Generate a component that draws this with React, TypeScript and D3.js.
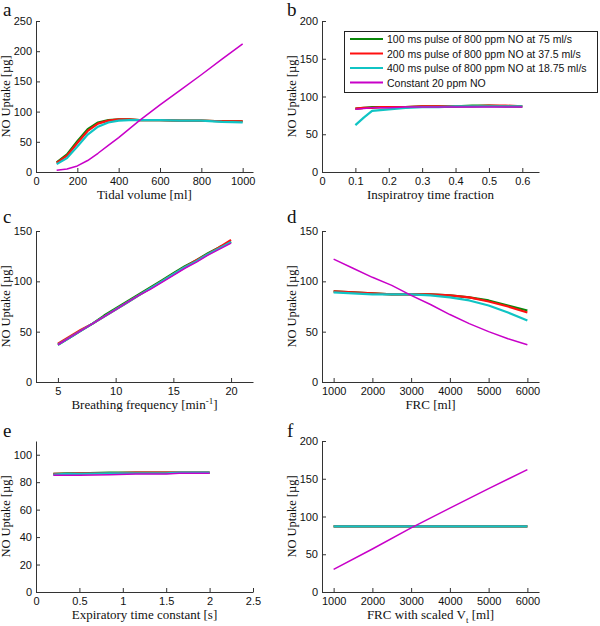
import React, { useEffect, useRef } from "react";
import * as d3 from "d3";

// colours of the four ventilation modes
const seriesNames = [
  "100 ms pulse of 800 ppm NO at 75 ml/s",
  "200 ms pulse of 800 ppm NO at 37.5 ml/s",
  "400 ms pulse of 800 ppm NO at 18.75 ml/s",
  "Constant 20 ppm NO",
];
const seriesColors = ["#0a870a", "#ff1010", "#10c4c4", "#c800c8"];

// a: tidal volume
const aX = [100, 150, 200, 250, 300, 350, 400, 450, 500, 600, 700, 800, 900, 1000];
const aGreen = [16, 29, 51, 71, 82, 86, 87, 87, 86, 86, 85, 85, 84, 84];
const aRed = [15, 27, 48, 68, 80, 85, 87, 87, 86, 86, 85, 85, 84, 84];
const aCyan = [13, 23, 42, 62, 75, 82, 85, 86, 86, 86, 85, 85, 83, 82];
const aMag = [3, 5, 10, 19, 31, 44, 57, 71, 85, 111, 136, 161, 187, 212];

// b: inspiratory time fraction
const bX = [0.1, 0.125, 0.15, 0.175, 0.2, 0.25, 0.3, 0.35, 0.4, 0.45, 0.5, 0.55, 0.6];
const bGreen = [84, 85, 86, 86, 86, 86, 87, 87, 87, 88, 88, 87, 87];
const bRed = [84, 85, 85, 86, 86, 86, 87, 87, 87, 87, 88, 88, 87];
const bCyan = [62, 72, 81, 82, 83, 85, 86, 86, 87, 87, 87, 87, 87];
const bMag = [83, 84, 85, 85, 85, 86, 86, 86, 86, 86, 86, 86, 86];

// c: breathing frequency
const cX = [5, 6, 7, 8, 9, 10, 11, 12, 13, 14, 15, 16, 17, 18, 19, 20];
const cGreen = [37, 44, 51, 58, 66, 73, 80, 87, 94, 101, 108, 115, 121, 128, 134, 139];
const cRed = [38, 45, 52, 58, 65, 72, 79, 86, 93, 100, 107, 114, 121, 127, 134, 141];
const cCyan = [37, 44, 51, 58, 65, 72, 79, 86, 93, 100, 107, 114, 120, 127, 133, 139];
const cMag = [37, 44, 51, 58, 65, 72, 79, 86, 92, 99, 106, 113, 119, 126, 132, 138];

// d: FRC
const dX = [1000, 1500, 2000, 2500, 3000, 3500, 4000, 4500, 5000, 5500, 6000];
const dGreen = [90, 89, 88, 87, 87, 87, 86, 84, 81, 76, 71];
const dRed = [90, 89, 88, 87, 87, 87, 86, 84, 80, 75, 69];
const dCyan = [89, 88, 87, 87, 87, 86, 84, 81, 76, 69, 61];
const dMag = [122, 113, 104, 96, 86, 77, 67, 58, 50, 43, 37];

// e: expiratory time constant
const eX = [0.2, 0.35, 0.5, 0.85, 1.15, 1.5, 1.65, 2];
const eGreen = [86, 86.5, 86.5, 87, 87, 87, 87, 87];
const eRed = [86, 86, 86.5, 86.5, 87, 87, 87, 87];
const eCyan = [85.5, 86, 86, 86.5, 86.5, 86.5, 87, 87];
const eMag = [85, 85, 85, 85.5, 86, 86, 86.5, 86.5];

// f: FRC with scaled Vt
const fX = [1000, 2000, 3000, 4000, 5000, 6000];
const fGreen = [87, 87, 87, 87, 87, 87];
const fRed = [87, 87, 87, 87, 87, 87];
const fCyan = [87, 87, 87, 87, 87, 87];
const fMag = [30, 57, 85, 111, 137, 162];

const panels = [
  { letter: "a", col: 0, row: 0, x: aX, ys: [aGreen, aRed, aCyan, aMag], xDom: [0, 1050], yDom: [0, 250],
    xTicks: [0, 200, 400, 600, 800, 1000], yTicks: [0, 50, 100, 150, 200, 250], xLabel: "Tidal volume [ml]" },
  { letter: "b", col: 1, row: 0, x: bX, ys: [bGreen, bRed, bCyan, bMag], xDom: [0, 0.65], yDom: [0, 200],
    xTicks: [0, 0.1, 0.2, 0.3, 0.4, 0.5, 0.6], yTicks: [0, 50, 100, 150, 200], xLabel: "Inspiratroy time fraction" },
  { letter: "c", col: 0, row: 1, x: cX, ys: [cGreen, cRed, cCyan, cMag], xDom: [3.1, 21.9], yDom: [0, 150],
    xTicks: [5, 10, 15, 20], yTicks: [0, 50, 100, 150], xLabel: "c" },
  { letter: "d", col: 1, row: 1, x: dX, ys: [dGreen, dRed, dCyan, dMag], xDom: [700, 6300], yDom: [0, 150],
    xTicks: [1000, 2000, 3000, 4000, 5000, 6000], yTicks: [0, 50, 100, 150], xLabel: "FRC [ml]" },
  { letter: "e", col: 0, row: 2, x: eX, ys: [eGreen, eRed, eCyan, eMag], xDom: [0, 2.5], yDom: [0, 110],
    xTicks: [0, 0.5, 1, 1.5, 2, 2.5], yTicks: [0, 20, 40, 60, 80, 100], xLabel: "Expiratory time constant [s]" },
  { letter: "f", col: 1, row: 2, x: fX, ys: [fGreen, fRed, fCyan, fMag], xDom: [700, 6300], yDom: [0, 200],
    xTicks: [1000, 2000, 3000, 4000, 5000, 6000], yTicks: [0, 50, 100, 150, 200], xLabel: "f" },
];

const colLeft = [36, 322];
const colRight = [253, 539];
const rowTop = [21, 231, 441];
const rowBottom = [172, 382, 592];
const letterY = [16, 223, 437];

const serif = "'Liberation Serif', 'DejaVu Serif', serif";
const sans = "'Liberation Sans', Arial, sans-serif";

export default function App() {
  const ref = useRef(null);

  useEffect(() => {
    const root = d3.select(ref.current);
    root.selectAll("*").remove();

    const svg = root
      .append("svg")
      .attr("width", 600)
      .attr("height", 626)
      .style("position", "absolute")
      .style("left", "0px")
      .style("top", "0px")
      .style("background", "#fff");

    panels.forEach((p) => {
      const x0 = colLeft[p.col];
      const x1 = colRight[p.col];
      const y0 = rowTop[p.row];
      const y1 = rowBottom[p.row];

      const x = d3.scaleLinear().domain(p.xDom).range([x0, x1]);
      const y = d3.scaleLinear().domain(p.yDom).range([y1, y0]);

      const g = svg.append("g");

      // series
      p.ys.forEach((vals, i) => {
        const pts = p.x.map((xv, k) => [xv, vals[k]]);
        g.append("path")
          .datum(pts)
          .attr("fill", "none")
          .attr("stroke", seriesColors[i])
          .attr("stroke-width", i === 3 ? 1.5 : 2.2)
          .attr("stroke-linejoin", "round")
          .attr(
            "d",
            d3
              .line()
              .x((d) => x(d[0]))
              .y((d) => y(d[1]))
          );
      });

      // axes (ticks pointing inward, MATLAB style)
      const xAxis = d3
        .axisBottom(x)
        .tickValues(p.xTicks)
        .tickSizeInner(-4)
        .tickSizeOuter(0)
        .tickPadding(5)
        .tickFormat(d3.format("~g"));
      const yAxis = d3
        .axisLeft(y)
        .tickValues(p.yTicks)
        .tickSizeInner(-4)
        .tickSizeOuter(0)
        .tickPadding(4)
        .tickFormat(d3.format("~g"));

      const gx = g.append("g").attr("transform", `translate(0,${y1})`).call(xAxis);
      const gy = g.append("g").attr("transform", `translate(${x0},0)`).call(yAxis);
      [gx, gy].forEach((ax) => {
        ax.select(".domain").attr("stroke", "#333");
        ax.selectAll(".tick line").attr("stroke", "#333");
        ax.selectAll("text")
          .attr("fill", "#111")
          .style("font-family", sans)
          .style("font-size", "11px");
      });

      // y label
      g.append("text")
        .attr("transform", `translate(${x0 - 26},${(y0 + y1) / 2}) rotate(-90)`)
        .attr("text-anchor", "middle")
        .style("font-family", serif)
        .style("font-size", "12.5px")
        .attr("fill", "#111")
        .text("NO Uptake [\u00b5g]");

      // x label
      const xl = g
        .append("text")
        .attr("x", (x0 + x1) / 2)
        .attr("y", y1 + 27)
        .attr("text-anchor", "middle")
        .style("font-family", serif)
        .style("font-size", "13px")
        .attr("fill", "#111");
      if (p.letter === "c") {
        xl.append("tspan").text("Breathing frequency [min");
        xl.append("tspan").attr("dy", -5).style("font-size", "9px").text("-1");
        xl.append("tspan").attr("dy", 5).text("]");
      } else if (p.letter === "f") {
        xl.append("tspan").text("FRC with scaled V");
        xl.append("tspan").attr("dy", 4).style("font-size", "9px").text("t");
        xl.append("tspan").attr("dy", -4).text(" [ml]");
      } else {
        xl.text(p.xLabel);
      }

      // panel letter
      g.append("text")
        .attr("x", p.col === 0 ? 3 : 287)
        .attr("y", letterY[p.row])
        .style("font-family", serif)
        .style("font-size", "19px")
        .attr("fill", "#111")
        .text(p.letter);
    });

    // legend in panel b
    const lg = svg.append("g");
    lg.append("rect")
      .attr("x", 344.5)
      .attr("y", 31.5)
      .attr("width", 253)
      .attr("height", 61)
      .attr("fill", "#fff")
      .attr("stroke", "#222");
    seriesNames.forEach((name, i) => {
      const ly = 39 + i * 14.5;
      lg.append("line")
        .attr("x1", 350)
        .attr("x2", 383)
        .attr("y1", ly)
        .attr("y2", ly)
        .attr("stroke", seriesColors[i])
        .attr("stroke-width", 2);
      lg.append("text")
        .attr("x", 387)
        .attr("y", ly + 4)
        .style("font-family", sans)
        .style("font-size", "10.5px")
        .attr("fill", "#111")
        .text(name);
    });
  }, []);

  return <div ref={ref} />;
}
